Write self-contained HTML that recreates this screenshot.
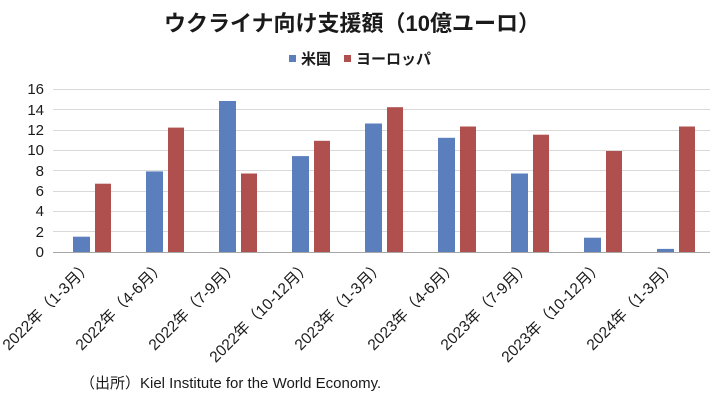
<!DOCTYPE html>
<html><head><meta charset="utf-8"><style>
body{margin:0;background:#fff}
svg{display:block}
text{font-family:"Liberation Sans","Noto Sans CJK JP",sans-serif;fill:#1a1a1a}
</style></head><body>
<svg width="720" height="412" viewBox="0 0 720 412" xmlns="http://www.w3.org/2000/svg">
<text x="352" y="31" font-size="22" text-anchor="middle" font-weight="bold">ウクライナ向け支援額（10億ユーロ）</text>
<rect x="289" y="55" width="7" height="7" fill="#5b7fbc"/>
<text x="301" y="64" font-size="15" font-weight="bold">米国</text>
<rect x="344" y="55" width="7" height="7" fill="#b0504e"/>
<text x="356" y="64" font-size="15" font-weight="bold">ヨーロッパ</text>
<g stroke="#d9d9d9" stroke-width="1">
<line x1="53" x2="710" y1="89.5" y2="89.5"/><line x1="53" x2="710" y1="109.5" y2="109.5"/>
<line x1="53" x2="710" y1="130.5" y2="130.5"/><line x1="53" x2="710" y1="150.5" y2="150.5"/>
<line x1="53" x2="710" y1="170.5" y2="170.5"/><line x1="53" x2="710" y1="191.5" y2="191.5"/>
<line x1="53" x2="710" y1="211.5" y2="211.5"/><line x1="53" x2="710" y1="231.5" y2="231.5"/>
</g>
<g font-size="15" text-anchor="end">
<text x="44" y="94">16</text><text x="44" y="115">14</text><text x="44" y="135">12</text>
<text x="44" y="155">10</text><text x="44" y="176">8</text><text x="44" y="196">6</text>
<text x="44" y="216">4</text><text x="44" y="237">2</text><text x="44" y="257">0</text>
</g>
<g fill="#5b7fbc">
<rect x="73" y="236.7" width="17" height="15.3"/>
<rect x="146" y="171.4" width="17" height="80.6"/>
<rect x="219" y="101" width="17" height="151"/>
<rect x="292" y="156.1" width="17" height="95.9"/>
<rect x="365" y="123.5" width="17" height="128.5"/>
<rect x="438" y="137.8" width="17" height="114.2"/>
<rect x="511" y="173.5" width="17" height="78.5"/>
<rect x="584" y="237.7" width="17" height="14.3"/>
<rect x="657" y="248.9" width="17" height="3.1"/>
</g>
<g fill="#b0504e">
<rect x="95" y="183.7" width="16" height="68.3"/>
<rect x="168" y="127.6" width="16" height="124.4"/>
<rect x="241" y="173.5" width="16" height="78.5"/>
<rect x="314" y="140.8" width="16" height="111.2"/>
<rect x="387" y="107.2" width="16" height="144.8"/>
<rect x="460" y="126.5" width="16" height="125.5"/>
<rect x="533" y="134.7" width="16" height="117.3"/>
<rect x="606" y="151" width="16" height="101"/>
<rect x="679" y="126.5" width="16" height="125.5"/>
</g>
<line x1="53" x2="710" y1="252.5" y2="252.5" stroke="#a6a6a6"/>
<g font-size="15.5" text-anchor="end">
<text transform="translate(93,267) rotate(-45)">2022年（1-3月）</text>
<text transform="translate(166,267) rotate(-45)">2022年（4-6月）</text>
<text transform="translate(239,267) rotate(-45)">2022年（7-9月）</text>
<text transform="translate(312,267) rotate(-45)">2022年（10-12月）</text>
<text transform="translate(385,267) rotate(-45)">2023年（1-3月）</text>
<text transform="translate(458,267) rotate(-45)">2023年（4-6月）</text>
<text transform="translate(531,267) rotate(-45)">2023年（7-9月）</text>
<text transform="translate(604,267) rotate(-45)">2023年（10-12月）</text>
<text transform="translate(677,267) rotate(-45)">2024年（1-3月）</text>
</g>
<text x="80" y="388" font-size="15">（出所）Kiel Institute for the World Economy.</text>
</svg>
</body></html>
